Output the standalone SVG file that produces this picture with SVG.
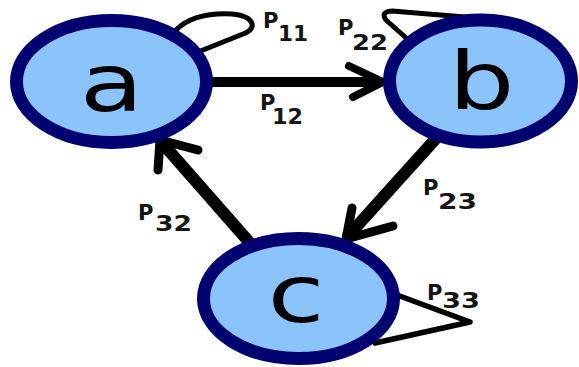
<svg xmlns="http://www.w3.org/2000/svg" width="579" height="367" viewBox="0 0 579 367">
<style>
.node{fill:#8BC4FB;stroke:#000070;stroke-width:13}
.big{font-family:"DejaVu Sans",sans-serif;font-size:80px;fill:#000;text-anchor:middle}
.lbl{font-family:"DejaVu Sans",sans-serif;font-weight:bold;font-size:21px;fill:#141414}
.edge{fill:none;stroke:#000;stroke-linecap:round;stroke-linejoin:round}
</style>
<rect width="579" height="367" fill="#fff"/>
<g id="connectors">
<path class="edge" stroke-width="5" d="M176,30 C190,16 212,13 232,14 C255,16 258,29 243,34 L193,54"/>
<path class="edge" stroke-width="5" d="M413,44 L386,20 Q380,12 392,11 L477,18"/>
<path class="edge" stroke-width="5.5" d="M397,295 L470,322 L375,343"/>
<path class="edge" stroke-width="10" d="M213,82 L380,82"/>
<path class="edge" stroke-width="8" stroke-linejoin="miter" d="M349,66 L383,82 L353,97"/>
<path class="edge" stroke-width="12" d="M440,134 L348,236"/>
<path class="edge" stroke-width="9" stroke-linejoin="miter" d="M352,208 L346,239 L393,226"/>
<path class="edge" stroke-width="12" d="M250,243 L163,144"/>
<path class="edge" stroke-width="9" stroke-linejoin="miter" d="M158,170 L160,140 L198,150"/>
</g>
<g id="a">
<ellipse class="node" cx="111.5" cy="81.5" rx="95" ry="61"/>
<text class="big" transform="translate(111.5,111) scale(1.3,1)">a</text>
</g>
<g id="b">
<ellipse class="node" cx="480.5" cy="81" rx="91" ry="61"/>
<text class="big" transform="translate(481.5,109) scale(1.3,1)">b</text>
</g>
<g id="c">
<ellipse class="node" cx="298.5" cy="298.5" rx="95" ry="60"/>
<text class="big" transform="translate(296,322) scale(1.3,1)">c</text>
</g>
<g id="labels">
<g id="p11"><text class="lbl" x="263" y="28">P</text><text class="lbl" x="278" y="41" textLength="30" lengthAdjust="spacingAndGlyphs">11</text></g>
<g id="p12"><text class="lbl" x="260" y="110">P</text><text class="lbl" x="272" y="124" textLength="31" lengthAdjust="spacingAndGlyphs">12</text></g>
<g id="p22"><text class="lbl" x="338" y="35">P</text><text class="lbl" x="352" y="50" textLength="36" lengthAdjust="spacingAndGlyphs">22</text></g>
<g id="p23"><text class="lbl" x="423" y="195">P</text><text class="lbl" x="438" y="209" textLength="39" lengthAdjust="spacingAndGlyphs">23</text></g>
<g id="p32"><text class="lbl" x="138" y="220">P</text><text class="lbl" x="155" y="231" textLength="37" lengthAdjust="spacingAndGlyphs">32</text></g>
<g id="p33"><text class="lbl" x="427" y="300">P</text><text class="lbl" x="442" y="308" textLength="38" lengthAdjust="spacingAndGlyphs">33</text></g>
</g>
</svg>
